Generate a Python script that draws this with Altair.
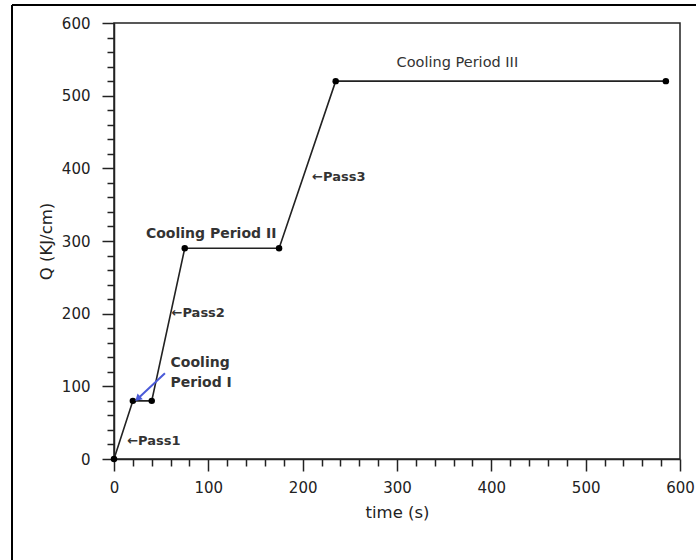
import altair as alt
import pandas as pd

# Heat input accumulated over the three welding passes and cooling periods
time_s = [0, 20, 40, 75, 175, 235, 585]
q_kj_cm = [0, 80, 80, 290, 290, 520, 520]

# Annotation labels (data coordinates)
bold_labels = ["Cooling Period II"]
bold_x = [103]
bold_y = [310]

pass_labels = ["\u2190Pass1", "\u2190Pass2", "\u2190Pass3"]
pass_x = [14, 61, 210]
pass_y = [25, 201, 388]

plain_labels = ["Cooling Period III"]
plain_x = [364]
plain_y = [545]

period1_label = ["Cooling\nPeriod I"]
period1_x = [60]
period1_y = [119]

# Blue arrow pointing at the first cooling period
arrow_x = [54, 26]
arrow_y = [118, 84]

W, H = 566, 436
FONT = "DejaVu Sans"

xscale = alt.Scale(domain=[0, 600], nice=False, zero=False)
yscale = alt.Scale(domain=[0, 600], nice=False, zero=False)

tick_size = {"condition": {"test": "datum.value % 100 === 0", "value": 12}, "value": 7}
major_only = "datum.value % 100 === 0 ? datum.label : ''"
tick_values = list(range(0, 601, 20))

common_axis = dict(
    values=tick_values, labelExpr=major_only, tickSize=tick_size,
    grid=False, labelFontSize=15, titleFontSize=16.5,
    labelFont=FONT, titleFont=FONT, labelColor="#222", titleColor="#222",
    titleFontWeight="normal", domainColor="#222", tickColor="#222",
    domainWidth=1.5, tickWidth=1.5,
    labelFlush=False, labelOverlap=False,
)
x_axis = alt.Axis(title="time (s)", titlePadding=9, labelPadding=9, **common_axis)
y_axis = alt.Axis(title="Q (KJ/cm)", titlePadding=7, labelPadding=12, **common_axis)


def enc(xf, yf):
    """Shared x/y encodings so every layer carries the same axes."""
    return dict(
        x=alt.X(xf, scale=xscale, axis=x_axis),
        y=alt.Y(yf, scale=yscale, axis=y_axis),
    )


df = pd.DataFrame({"t": time_s, "q": q_kj_cm})

line = alt.Chart(df).mark_line(color="#222", strokeWidth=1.6).encode(**enc("t:Q", "q:Q"))
dots = alt.Chart(df).mark_point(filled=True, color="#000", size=42, opacity=1).encode(**enc("t:Q", "q:Q"))

bold_text = alt.Chart(pd.DataFrame({"x": bold_x, "y": bold_y, "label": bold_labels})).mark_text(
    font=FONT, fontSize=14, fontWeight="bold", color="#333", align="center", baseline="middle"
).encode(text="label:N", **enc("x:Q", "y:Q"))

pass_text = alt.Chart(pd.DataFrame({"x": pass_x, "y": pass_y, "label": pass_labels})).mark_text(
    font=FONT, fontSize=13, fontWeight="bold", color="#333", align="left", baseline="middle"
).encode(text="label:N", **enc("x:Q", "y:Q"))

plain = alt.Chart(pd.DataFrame({"x": plain_x, "y": plain_y, "label": plain_labels})).mark_text(
    font=FONT, fontSize=14.5, fontWeight="normal", color="#333", align="center", baseline="middle"
).encode(text="label:N", **enc("x:Q", "y:Q"))

period1 = alt.Chart(pd.DataFrame({"x": period1_x, "y": period1_y, "label": period1_label})).mark_text(
    font=FONT, fontSize=14, fontWeight="bold", color="#333", align="left", baseline="middle",
    lineBreak="\n", lineHeight=20, dy=-10,
).encode(text="label:N", **enc("x:Q", "y:Q"))

arrow_df = pd.DataFrame({"x": arrow_x, "y": arrow_y, "o": [0, 1]})
arrow_line = alt.Chart(arrow_df).mark_line(color="#4a5ad8", strokeWidth=2).encode(
    order="o:Q", **enc("x:Q", "y:Q")
)
arrow_head = alt.Chart(arrow_df[arrow_df["o"] == 1]).mark_point(
    shape="triangle", filled=True, color="#4a5ad8", size=60, angle=227, opacity=1
).encode(**enc("x:Q", "y:Q"))

# Outer frame around the figure (top and left edges)
frame_top = alt.Chart(df).mark_rule(color="#000", strokeWidth=2).encode(
    x=alt.value(-102), x2=alt.value(600), y=alt.value(-18)
)
frame_left = alt.Chart(df).mark_rule(color="#000", strokeWidth=2).encode(
    x=alt.value(-102), y=alt.value(-18), y2=alt.value(600)
)

chart = alt.layer(
    line, dots, arrow_line, arrow_head, bold_text, pass_text, plain, period1,
    frame_top, frame_left,
).properties(
    width=W, height=H,
    background="white",
    padding={"left": 114, "top": 23, "right": 16, "bottom": 101},
    autosize=alt.AutoSizeParams(type="none"),
).configure_view(
    stroke="#222", strokeWidth=1.5
)

chart.save("out.html", embed_options={"renderer": "svg", "actions": False})
